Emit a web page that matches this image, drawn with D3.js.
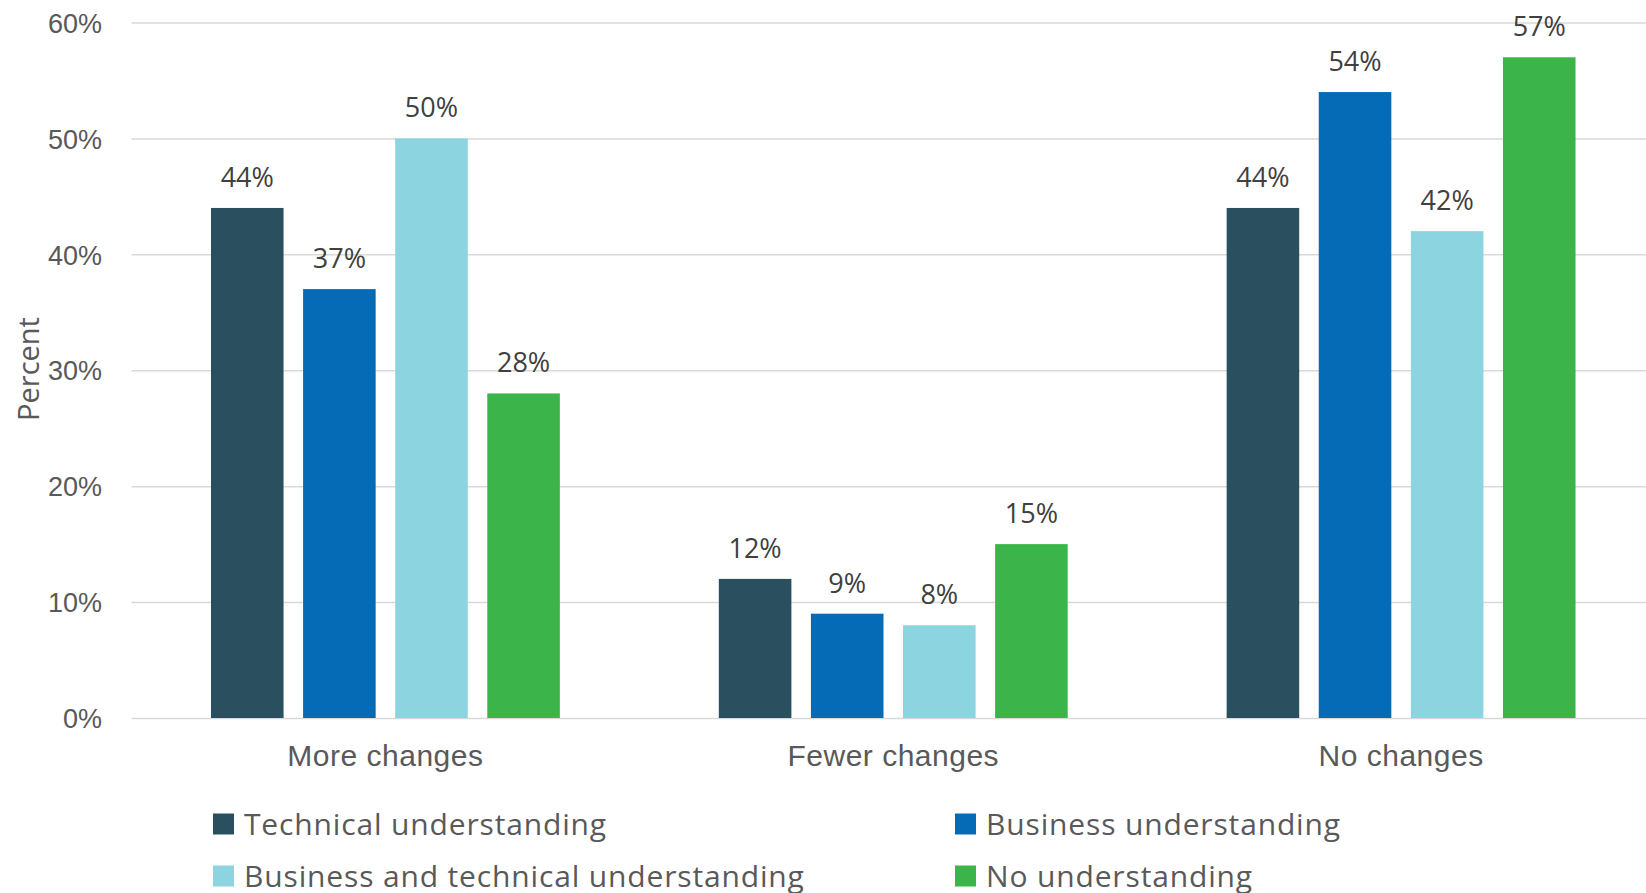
<!DOCTYPE html>
<html>
<head>
<meta charset="utf-8">
<script src="https://cdn.jsdelivr.net/npm/d3@7/dist/d3.min.js"></script>
<style>
  html, body { margin: 0; padding: 0; background: #ffffff; }
  svg { display: block; font-family: "Open Sans", "Noto Sans", sans-serif; }
</style>
</head>
<body>
<svg id="chart" width="1646" height="893"></svg>
<script>
// Change categories (x groups)
const categories = ["More changes", "Fewer changes", "No changes"];

// Respondent groups (one bar per group in each category)
const seriesNames = [
  "Technical understanding",
  "Business understanding",
  "Business and technical understanding",
  "No understanding"
];
const seriesColors = ["#2A4F5E", "#066BB6", "#8CD4DF", "#3BB54A"];

// Percent values, one array per series, in category order
const technicalValues = [44, 12, 44];
const businessValues = [37, 9, 54];
const bothValues = [50, 8, 42];
const noneValues = [28, 15, 57];
const seriesValues = [technicalValues, businessValues, bothValues, noneValues];

// Y axis ticks
const yTicks = [0, 10, 20, 30, 40, 50, 60];

const svg = d3.select("#chart");
const W = 1646;

const plotLeft = 131.5, plotRight = 1655;
const plotTop = 22.5, plotBottom = 718;

const x0 = d3.scaleBand()
  .domain(categories)
  .range([plotLeft, plotRight])
  .paddingInner(0.313)
  .paddingOuter(0.1565);

const x1 = d3.scaleBand()
  .domain(seriesNames)
  .range([0, x0.bandwidth()])
  .paddingInner(0.212)
  .paddingOuter(0);

const y = d3.scaleLinear().domain([0, 60]).range([plotBottom, plotTop]);
const color = d3.scaleOrdinal().domain(seriesNames).range(seriesColors);

// Horizontal gridlines + tick labels
const yAxis = d3.axisLeft(y)
  .tickValues(yTicks)
  .tickFormat(d => d + "%")
  .tickSizeInner(-(W - plotLeft))
  .tickSizeOuter(0)
  .tickPadding(29.5);

const gy = svg.append("g")
  .attr("transform", `translate(${plotLeft},0)`)
  .call(yAxis);
gy.select(".domain").remove();
gy.selectAll(".tick line").attr("stroke", "#D9D9D9").attr("stroke-width", 1.5);
gy.selectAll(".tick text")
  .attr("fill", "#595959")
  .style("font-size", "27px")
  .attr("dy", "0.36em");

// Bars
const rows = [];
seriesNames.forEach((s, si) => {
  categories.forEach((c, ci) => rows.push({ series: s, category: c, value: seriesValues[si][ci] }));
});

svg.append("g").selectAll("rect")
  .data(rows)
  .join("rect")
  .attr("x", d => x0(d.category) + x1(d.series))
  .attr("y", d => y(d.value))
  .attr("width", x1.bandwidth())
  .attr("height", d => y(0) - y(d.value))
  .attr("fill", d => color(d.series));

// Value labels
svg.append("g").selectAll("text")
  .data(rows)
  .join("text")
  .attr("x", d => x0(d.category) + x1(d.series) + x1.bandwidth() / 2)
  .attr("y", d => y(d.value) - 21)
  .attr("text-anchor", "middle")
  .attr("fill", "#404040")
  .style("font-size", "27px")
  .text(d => d.value + "%");

// Category axis
const xAxis = d3.axisBottom(x0).tickSize(0).tickPadding(27);
const gx = svg.append("g")
  .attr("transform", `translate(0,${plotBottom})`)
  .call(xAxis);
gx.select(".domain").remove();
gx.selectAll(".tick text")
  .attr("fill", "#595959")
  .style("font-size", "30px")
  .style("letter-spacing", "0.5px");

// Y axis title
svg.append("text")
  .attr("transform", `translate(39,369) rotate(-90)`)
  .attr("text-anchor", "middle")
  .attr("fill", "#595959")
  .style("font-size", "29px")
  .text("Percent");

// Legend (two columns, two rows)
const legendCols = [213, 955];
const legendRows = [813.5, 865.5];
const legend = svg.append("g").selectAll("g")
  .data(seriesNames)
  .join("g")
  .attr("transform", (d, i) => `translate(${legendCols[i % 2]},${legendRows[Math.floor(i / 2)]})`);
legend.append("rect")
  .attr("width", 21).attr("height", 21)
  .attr("fill", d => color(d));
legend.append("text")
  .attr("x", 31).attr("y", 21.5)
  .attr("fill", "#595959")
  .style("font-size", "30px")
  .style("letter-spacing", "0.85px")
  .text(d => d);
</script>
</body>
</html>
